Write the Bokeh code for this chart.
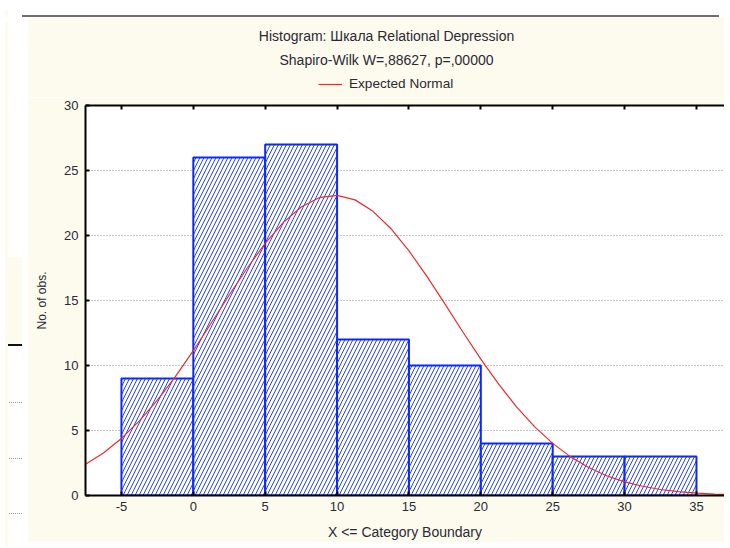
from bokeh.plotting import figure
from bokeh.models import Range1d, LinearAxis, Legend, LegendItem, FixedTicker, Div
from bokeh.core.properties import value
from bokeh.layouts import column, row
from bokeh.embed import file_html
from bokeh.resources import INLINE

# ---- data ----
bin_left = [-5, 0, 5, 10, 15, 20, 25, 30]
bin_right = [0, 5, 10, 15, 20, 25, 30, 35]
counts = [9, 26, 27, 12, 10, 4, 3, 3]

curve_x = [-7.5, -6.25, -5, -3.75, -2.5, -1.25, 0, 1.25, 2.5, 3.75, 5, 6.25, 7.5, 8.75,
           10, 11.25, 12.5, 13.75, 15, 16.25, 17.5, 18.75, 20, 21.25, 22.5, 23.75, 25,
           26.25, 27.5, 28.75, 30, 31.25, 32.5, 33.75, 35, 36.25, 37.5]
curve_y = [2.4, 3.27, 4.39, 5.74, 7.33, 9.15, 11.15, 13.27, 15.42, 17.5, 19.4, 20.99,
           22.19, 22.91, 23.09, 22.74, 21.86, 20.52, 18.82, 16.85, 14.74, 12.58, 10.49,
           8.55, 6.8, 5.28, 4.01, 2.97, 2.15, 1.52, 1.05, 0.71, 0.46, 0.3, 0.19, 0.11, 0.07]

x_ticks = [-5, 0, 5, 10, 15, 20, 25, 30, 35]
x_tick_labels = ["-5", "0", "5", "10", "15", "20", "25", "30", "35"]
y_ticks = [0, 5, 10, 15, 20, 25, 30]

title_text = "Histogram: Шкала Relational Depression"
subtitle_text = "Shapiro-Wilk W=,88627, p=,00000"
legend_text = "Expected Normal"
x_label = "X <= Category Boundary"
y_label = "No. of obs."

CREAM = "#fdfaee"
FONT = "Liberation Sans"
TXT = "#2a2a35"
RED = "#ea2c2c"

# ---- header (titles + legend); frame aligned with the main plot frame ----
H_HEAD = 80
FRAME_W = 639
head = figure(width=697, height=H_HEAD, output_backend="svg", toolbar_location=None,
              x_range=Range1d(0, FRAME_W), y_range=Range1d(0, H_HEAD),
              min_border_left=58, min_border_right=0, min_border_top=0,
              min_border_bottom=0, background_fill_color=CREAM, border_fill_color=CREAM,
              outline_line_color=None, x_axis_location=None, y_axis_location=None)
head.grid.visible = False
head.text(x=[301, 301], y=[H_HEAD - 18, H_HEAD - 42], text=[title_text, subtitle_text],
          text_align="center", text_baseline="middle", text_font=value(FONT),
          text_font_size="14px", text_color=TXT)
legend_proxy = head.line(curve_x, curve_y, line_color=RED, line_width=1.2, visible=False)
head.add_layout(Legend(items=[LegendItem(label=legend_text, renderers=[legend_proxy])],
                       location=(233, 6), orientation="horizontal",
                       glyph_width=24, glyph_height=14, label_height=14, label_standoff=7,
                       padding=0, margin=0, spacing=0, border_line_color=None,
                       background_fill_alpha=0, label_text_font=FONT,
                       label_text_font_size="13.6px", label_text_color=TXT), "center")

# ---- main plot ----
p = figure(width=697, height=445, output_backend="svg", toolbar_location=None,
           x_range=Range1d(-7.5, 36.95), y_range=Range1d(0, 30),
           min_border_left=58, min_border_right=0, min_border_top=8, min_border_bottom=47,
           background_fill_color="white", border_fill_color=CREAM, outline_line_color=None,
           x_axis_location=None, y_axis_location=None)

p.quad(left=bin_left, right=bin_right, top=counts, bottom=0,
       fill_color="white", line_color="#0a28ff", line_width=2,
       hatch_pattern="right_diagonal_line", hatch_color="#2542ff",
       hatch_scale=8, hatch_weight=1)

p.line(curve_x, curve_y, line_color=RED, line_width=1.2)

def style_axis(ax):
    ax.axis_line_color = "black"
    ax.axis_line_width = 2
    ax.major_tick_in = 4
    ax.major_tick_out = 0
    ax.major_tick_line_color = "black"
    ax.major_tick_line_width = 2
    ax.minor_tick_line_color = None
    ax.major_label_text_font = FONT
    ax.major_label_text_font_size = "13px"
    ax.major_label_text_color = TXT
    ax.axis_label_text_font = FONT
    ax.axis_label_text_font_size = "14px"
    ax.axis_label_text_font_style = "normal"
    ax.axis_label_text_color = TXT

xb = LinearAxis(ticker=FixedTicker(ticks=x_ticks), axis_label=x_label,
                major_label_overrides=dict(zip(x_ticks, x_tick_labels)))
style_axis(xb)
xb.major_label_standoff = 6
xb.axis_label_standoff = 10
p.add_layout(xb, "below")

xt = LinearAxis(ticker=FixedTicker(ticks=x_ticks),
                major_label_overrides={t: "" for t in x_ticks})
style_axis(xt)
xt.major_label_standoff = 0
p.add_layout(xt, "above")

yl = LinearAxis(ticker=FixedTicker(ticks=y_ticks), axis_label=y_label)
style_axis(yl)
yl.axis_label_text_font_size = "12px"
yl.major_label_standoff = 7
yl.axis_label_standoff = 12
p.add_layout(yl, "left")

p.xgrid.grid_line_color = None
p.ygrid.ticker = FixedTicker(ticks=y_ticks)
p.ygrid.grid_line_color = "#8a8a8a"
p.ygrid.grid_line_dash = "1 2"
p.ygrid.grid_line_width = 1

top_div = Div(width=714, height=7, text=(
    '<div style="position:relative;width:714px;height:7px;background:#ffffff;">'
    '<div style="position:absolute;left:0;top:0;width:3px;height:7px;background:%s;"></div>'
    '<div style="position:absolute;left:17px;top:5px;width:697px;height:2px;background:#6e6e6e;"></div>'
    '</div>' % CREAM))

left_div = Div(width=17, height=525, text=(
    '<div style="position:relative;width:17px;height:525px;background:%s;">'
    '<div style="position:absolute;left:3px;top:0;width:14px;height:235px;background:#ffffff;"></div>'
    '<div style="position:absolute;left:3px;top:322px;width:14px;height:2px;background:#111111;"></div>'
    '<div style="position:absolute;left:3px;top:324px;width:14px;height:201px;background:#ffffff;"></div>'
    '<div style="position:absolute;left:4px;top:380px;width:13px;height:0;border-top:1px dotted #999;"></div>'
    '<div style="position:absolute;left:4px;top:436px;width:13px;height:0;border-top:1px dotted #999;"></div>'
    '<div style="position:absolute;left:4px;top:491px;width:13px;height:0;border-top:1px dotted #999;"></div>'
    '</div>' % CREAM))

layout = column(top_div, row(left_div, column(head, p, spacing=0), spacing=0), spacing=0)

open("out.html", "w").write(file_html(layout, INLINE))
